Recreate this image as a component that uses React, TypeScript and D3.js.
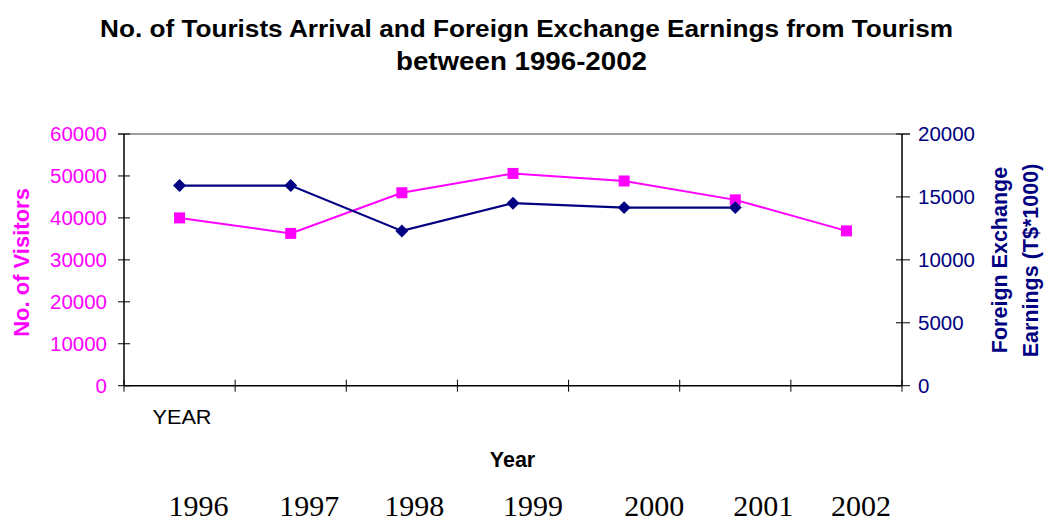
import React from "react";
import * as d3 from "d3";

const years = ["1996", "1997", "1998", "1999", "2000", "2001", "2002"];
const visitors = [40000, 36300, 46000, 50600, 48800, 44300, 36900];
const earnings: (number | null)[] = [15900, 15900, 12300, 14500, 14150, 14150, null];
const leftTicks = [0, 10000, 20000, 30000, 40000, 50000, 60000];
const rightTicks = [0, 5000, 10000, 15000, 20000];
const titleLines = [
  "No. of Tourists Arrival and Foreign Exchange Earnings from Tourism",
  "between 1996-2002",
];

const W = 1044;
const H = 521;
const plot = { left: 124, right: 902, top: 134, bottom: 385.7 };
const PINK = "#FF00FF";
const NAVY = "#000080";
const SANS = "'Liberation Sans', Arial, sans-serif";
const SERIF = "'Liberation Serif', 'Times New Roman', serif";
const yearLabelShift = [19, 18.5, 12.5, 20, 30, 28, 14.5];

export default function App() {
  const x = d3.scaleBand<string>().domain(years).range([plot.left, plot.right]);
  const cx = (d: string) => (x(d) as number) + x.bandwidth() / 2;
  const yL = d3.scaleLinear().domain([0, 60000]).range([plot.bottom, plot.top]);
  const yR = d3.scaleLinear().domain([0, 20000]).range([plot.bottom, plot.top]);

  const visData = years.map((y, i) => ({ y, v: visitors[i] }));
  const earnData = years.map((y, i) => ({ y, v: earnings[i] }));

  const lineV = d3
    .line<{ y: string; v: number }>()
    .x((d) => cx(d.y))
    .y((d) => yL(d.v));
  const lineE = d3
    .line<{ y: string; v: number | null }>()
    .defined((d) => d.v !== null)
    .x((d) => cx(d.y))
    .y((d) => yR(d.v as number));

  const boundaries = [...years.map((d) => x(d) as number), plot.right];
  const diamond = d3.symbol(d3.symbolSquare, 84)();

  return (
    <svg
      width={W}
      height={H}
      style={{ position: "absolute", left: 0, top: 0, background: "#fff" }}
    >
      <rect x={0} y={0} width={W} height={H} fill="#fff" />
      {/* Title */}
      <g fontFamily={SANS} fontWeight="bold" fill="#000" textAnchor="middle">
        <text x={526.5} y={37} fontSize={23.5} textLength={853} lengthAdjust="spacingAndGlyphs">
          {titleLines[0]}
        </text>
        <text x={521.5} y={69.5} fontSize={25} textLength={251} lengthAdjust="spacingAndGlyphs">
          {titleLines[1]}
        </text>
      </g>

      {/* top border */}
      <line x1={plot.left - 6} x2={plot.right + 8} y1={plot.top} y2={plot.top} stroke="#808080" strokeWidth={1.5} />

      {/* left axis */}
      <line x1={plot.left} x2={plot.left} y1={plot.top} y2={plot.bottom} stroke="#000" strokeWidth={1.5} />
      {leftTicks.map((t) => (
        <g key={"l" + t}>
          <line x1={plot.left - 6} x2={plot.left + 6} y1={yL(t)} y2={yL(t)} stroke="#000" strokeWidth={1} />
          <text
            x={107}
            y={yL(t) + 7}
            textAnchor="end"
            fontFamily={SANS}
            fontSize={20.5}
            fill={PINK}
          >
            {t}
          </text>
        </g>
      ))}

      {/* right axis */}
      <line x1={plot.right} x2={plot.right} y1={plot.top} y2={plot.bottom} stroke="#000" strokeWidth={1.5} />
      {rightTicks.map((t) => (
        <g key={"r" + t}>
          <line x1={plot.right - 6} x2={plot.right + 8} y1={yR(t)} y2={yR(t)} stroke="#000" strokeWidth={1} />
          <text x={918} y={yR(t) + 7} textAnchor="start" fontFamily={SANS} fontSize={20.5} fill={NAVY}>
            {t}
          </text>
        </g>
      ))}

      {/* bottom axis */}
      <line x1={plot.left} x2={plot.right} y1={plot.bottom} y2={plot.bottom} stroke="#000" strokeWidth={1.5} />
      {boundaries.map((b, i) => (
        <line key={"b" + i} x1={b} x2={b} y1={plot.bottom - 6} y2={plot.bottom + 6} stroke="#000" strokeWidth={1} />
      ))}

      {/* series */}
      <path d={lineV(visData) || ""} fill="none" stroke={PINK} strokeWidth={2} />
      <path d={lineE(earnData) || ""} fill="none" stroke={NAVY} strokeWidth={2.2} />
      {visData.map((d) => (
        <rect key={"v" + d.y} x={cx(d.y) - 5.5} y={yL(d.v) - 5.5} width={11} height={11} fill={PINK} />
      ))}
      {earnData
        .filter((d) => d.v !== null)
        .map((d) => (
          <path
            key={"e" + d.y}
            d={diamond || ""}
            transform={`translate(${cx(d.y)},${yR(d.v as number)}) rotate(45)`}
            fill={NAVY}
          />
        ))}

      {/* left axis title */}
      <text
        transform="translate(29,262.5) rotate(-90)"
        textAnchor="middle"
        fontFamily={SANS}
        fontWeight="bold"
        fontSize={22}
        fill={PINK}
      >
        No. of Visitors
      </text>

      {/* right axis title */}
      <g fontFamily={SANS} fontWeight="bold" fontSize={21.5} fill={NAVY} textAnchor="middle">
        <text transform="translate(1006.5,260) rotate(-90)">Foreign Exchange</text>
        <text transform="translate(1037.5,260.5) rotate(-90)">Earnings (T$*1000)</text>
      </g>

      {/* YEAR label */}
      <text x={152.5} y={424} fontFamily={SANS} fontSize={21} fill="#000" textLength={59} lengthAdjust="spacingAndGlyphs">
        YEAR
      </text>
      <text x={512.5} y={467} textAnchor="middle" fontFamily={SANS} fontWeight="bold" fontSize={21.5} fill="#000">
        Year
      </text>

      {/* years typed below */}
      {years.map((y, i) => (
        <text
          key={"y" + y}
          x={cx(y) + yearLabelShift[i]}
          y={516}
          textAnchor="middle"
          fontFamily={SERIF}
          fontSize={30}
          fill="#000"
        >
          {y}
        </text>
      ))}
    </svg>
  );
}
